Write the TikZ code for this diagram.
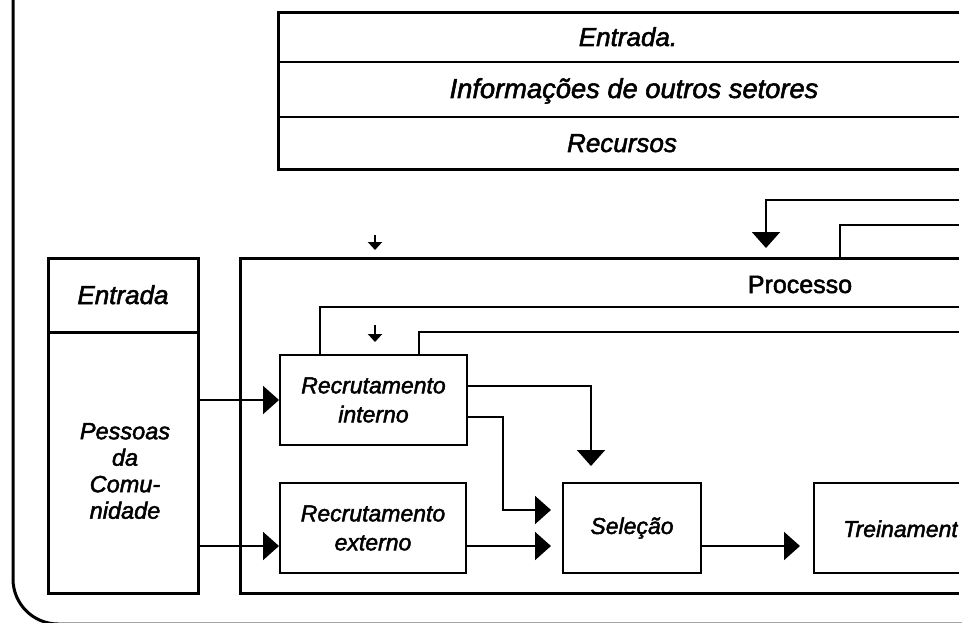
\documentclass[tikz,border=0pt]{standalone}
\usepackage{fontspec}
\setmainfont{Liberation Sans}
\newfontfamily\heavy{Liberation Sans}[FakeBold=2]
\usetikzlibrary{arrows.meta,calc}
\begin{document}
\begin{tikzpicture}[x=1pt,y=-1pt,
  big/.style={-{Triangle[length=16pt,width=28pt]}, line width=2pt},
  small/.style={-{Triangle[length=8pt,width=14pt]}, line width=2pt},
  frame/.style={line width=3pt},
  thin/.style={line width=2pt},
  toptxt/.style={font=\heavy\fontsize{26}{30}\selectfont\itshape, inner sep=0pt},
  intxt/.style={font=\heavy\fontsize{23}{28}\selectfont\itshape, align=center},
  stepbox/.style={draw, line width=2pt, inner sep=0pt, font=\heavy\fontsize{23}{29}\selectfont\itshape, align=center}
]
\useasboundingbox (0,0) rectangle (962,623);
\clip (0,0) rectangle (962,623);

% outer frame
\draw[frame, rounded corners=45pt] (13,-10) -- (13,624) -- (990,624);

% top box
\draw[frame] (959,13) -- (278,13) -- (278,170) -- (959,170);
\draw[line width=2.5pt] (278,62) -- (959,62) (278,117) -- (959,117);
\node[toptxt, anchor=base] (t1) at (628,46) {Entrada.};
\node[toptxt, anchor=base, font=\heavy\fontsize{27.3}{30}\selectfont\itshape] (t2) at (634,98) {Informações de outros setores};
\node[toptxt, anchor=base] (t3) at (622,152) {Recursos};

% feedback from the right, top
\coordinate (fb1) at (959,200);
\coordinate (fb1t) at (766,248);
\draw[big] (fb1) -| (fb1t);
\coordinate (fb2) at (959,225);
\coordinate (fb2b) at (840,258);
\draw[thin] (fb2) -| (fb2b);

% small arrow above process box
\coordinate (s1a) at (375,235);
\coordinate (s1b) at (375,250);
\draw[small] (s1a) -- (s1b);

% left box
\node[draw, frame, minimum width=150pt, minimum height=335pt, inner sep=0pt] (pess) at (123,425.5) {};
\coordinate (divl) at (48,332);
\coordinate (divr) at (198,332);
\draw[frame] (divl) -- (divr);
\node[toptxt, anchor=base] (entl) at (123,304) {Entrada};
\node[intxt, inner sep=0pt, font=\heavy\fontsize{23.5}{26.5}\selectfont\itshape] (pt) at (125,471) {Pessoas\\da\\Comu-\\nidade};

% process box
\draw[frame] (959,258) -- (240,258) -- (240,593) -- (959,593);
\node[font=\heavy\fontsize{25}{30}\selectfont, anchor=base, inner sep=0pt] (proc) at (800,293) {Processo};

% inner boxes
\node[stepbox, minimum width=187pt, minimum height=90pt] (ri) at (373.5,400) {Recrutamento\\interno};
\node[stepbox, minimum width=186pt, minimum height=90pt] (re) at (373,528) {Recrutamento\\externo};
\node[stepbox, minimum width=138pt, minimum height=90pt] (sel) at (632,528) {Seleção};
\draw[thin] (959,483) -- (814,483) -- (814,573) -- (959,573);
\coordinate (trw) at (814,528);
\begin{scope}
\clip (800,470) rectangle (958,580);
\node[intxt, anchor=base west, inner sep=0pt] (trt) at (843,537) {Treinamento};
\end{scope}

% feedback lines from recrutamento interno
\coordinate (fb3) at (959,307);
\coordinate (fb4) at (959,332);
\draw[thin] ([xshift=-53.5pt]ri.north) |- (fb3);
\draw[thin] ([xshift=45.5pt]ri.north) |- (fb4);
\coordinate (s2a) at (375,325);
\coordinate (s2b) at (375,342);
\draw[small] (s2a) -- (s2b);

% connectors
\draw[big] (pess.east |- ri.west) -- (ri.west);
\coordinate (reIn) at ([yshift=-18pt]re.west);
\draw[big] (pess.east |- reIn) -- (reIn);
\draw[big] ([yshift=14pt]ri.east) -| ([xshift=-41pt,yshift=16pt]sel.north);
\draw[big] ([yshift=-17pt]ri.east) -- ++(35,0) |- ([xshift=-11pt,yshift=18pt]sel.west);
\draw[big] ([yshift=-18pt]re.east) -- ([xshift=-11pt,yshift=-18pt]sel.west);
\draw[big] ([yshift=-18pt]sel.east) -- ([xshift=-14pt,yshift=-18pt]trw);
\end{tikzpicture}
\end{document}
